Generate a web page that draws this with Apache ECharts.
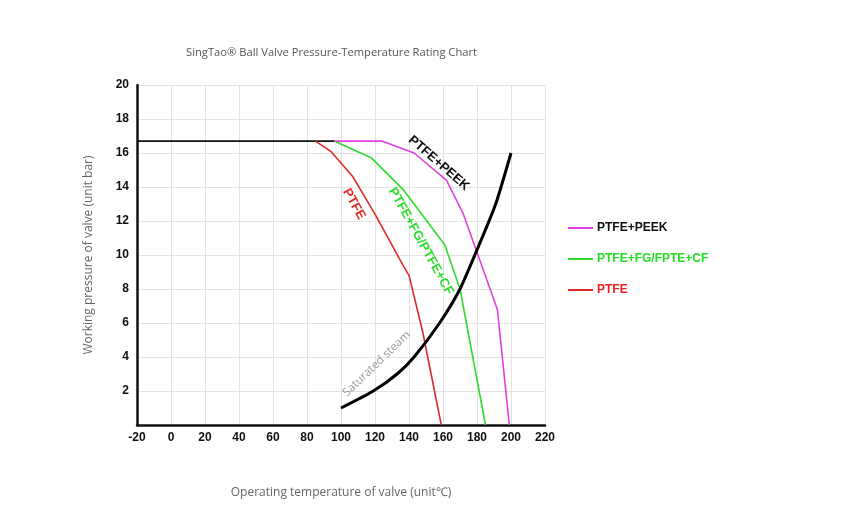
<!DOCTYPE html>
<html>
<head>
<meta charset="utf-8">
<script src="https://cdn.jsdelivr.net/npm/echarts@6/dist/echarts.min.js"></script>
<style>
  html, body { margin: 0; padding: 0; background: #fff; }
  #chart { width: 856px; height: 523px; }
</style>
</head>
<body>
<div id="chart"></div>
<script>
// temperature (°C), pressure (bar) pairs
const maxLine = [[-20, 16.7], [96, 16.7]];
const ptfe = [[85, 16.7], [94, 16.1], [107, 14.6], [120, 12.4], [137, 9.3], [140, 8.8], [148, 5.5], [159, 0]];
const ptfeFg = [[96, 16.7], [118, 15.7], [137, 13.8], [161, 10.6], [170, 8], [185, 0]];
const ptfePeek = [[96, 16.7], [124, 16.7], [143, 16], [162, 14.4], [172, 12.4], [192, 6.8], [199, 0]];
const steam = [[100, 1], [119, 2], [133, 3], [143, 4], [158, 6], [170, 8], [180, 10.3], [191, 13], [200, 16]];

const legendNames = ['PTFE+PEEK', 'PTFE+FG/FPTE+CF', 'PTFE'];

// curve labels: [text, x, y]
const notes = [
  ['PTFE+PEEK', 157.5, 15.4],
  ['PTFE', 107.6, 13.0],
  ['PTFE+FG/PTFE+CF', 147, 10.8],
  ['Saturated steam', 121, 3.6],
];

const chart = echarts.init(document.getElementById('chart'));

function note(i, color, rotate, bold) {
  return {
    silent: true,
    symbol: 'circle',
    symbolSize: 1,
    itemStyle: { color: 'rgba(0,0,0,0)' },
    label: {
      show: true,
      formatter: '{b}',
      color: color,
      rotate: rotate,
      fontSize: bold ? 13 : 11.5,
      fontWeight: bold ? 'bold' : 'normal',
      fontFamily: bold ? 'Liberation Sans, Arial' : 'Open Sans',
      position: 'inside',
    },
    data: [{ name: notes[i][0], coord: [notes[i][1], notes[i][2]] }],
  };
}

const thin = (color) => ({ width: 1.6, color: color });

chart.setOption({
  animation: false,
  backgroundColor: '#fff',
  title: {
    text: 'SingTao® Ball Valve Pressure-Temperature Rating Chart',
    left: 181,
    top: 42,
    textStyle: { color: '#555', fontSize: 11.2, fontWeight: 'normal', fontFamily: 'Open Sans' },
  },
  legend: {
    orient: 'vertical',
    left: 568,
    top: 222,
    padding: 0,
    itemWidth: 25,
    itemHeight: 2,
    itemGap: 19,
    icon: 'rect',
    selectedMode: false,
    data: [
      { name: legendNames[0], textStyle: { color: '#111' } },
      { name: legendNames[1], textStyle: { color: '#22dd22' } },
      { name: legendNames[2], textStyle: { color: '#ee2222' } },
    ],
    textStyle: { fontSize: 12, fontWeight: 'bold', fontFamily: 'Liberation Sans, Arial', padding: [0, 0, 0, -1] },
  },
  grid: { left: 137, right: 311, top: 85, bottom: 98 },
  xAxis: {
    type: 'value',
    min: -20,
    max: 220,
    interval: 20,
    name: 'Operating temperature of valve (unit℃)',
    nameLocation: 'middle',
    nameGap: 62,
    nameTextStyle: { color: '#666', fontSize: 12, fontFamily: 'Open Sans' },
    axisLine: { onZero: false, lineStyle: { color: '#111', width: 2.5 } },
    axisTick: { show: false },
    axisLabel: { color: '#111', fontSize: 12, fontWeight: 'bold', fontFamily: 'Liberation Sans, Arial', margin: 7 },
    splitLine: { lineStyle: { color: '#e2e2e2' } },
  },
  yAxis: {
    type: 'value',
    min: 0,
    max: 20,
    interval: 2,
    name: 'Working pressure of valve (unit bar)',
    nameLocation: 'middle',
    nameGap: 42,
    nameTextStyle: { color: '#666', fontSize: 12, fontFamily: 'Open Sans' },
    axisLine: { show: true, onZero: false, lineStyle: { color: '#111', width: 2.5 } },
    axisTick: { show: false },
    axisLabel: {
      color: '#111', fontSize: 12, fontWeight: 'bold', fontFamily: 'Liberation Sans, Arial', margin: 8,
      formatter: v => (v === 0 ? '' : v),
    },
    splitLine: { lineStyle: { color: '#e2e2e2' } },
  },
  series: [
    { name: 'max', type: 'line', data: maxLine, symbol: 'none', lineStyle: thin('#111'), z: 3 },
    { name: 'PTFE', type: 'line', data: ptfe, symbol: 'none', color: '#e02a2a', lineStyle: thin('#e02a2a'), markPoint: note(1, '#e02a2a', -61, true) },
    { name: 'PTFE+FG/FPTE+CF', type: 'line', data: ptfeFg, symbol: 'none', color: '#2ddc2d', lineStyle: thin('#2ddc2d'), markPoint: note(2, '#2ddc2d', -61, true) },
    { name: 'PTFE+PEEK', type: 'line', data: ptfePeek, symbol: 'none', color: '#e040e0', lineStyle: thin('#e040e0'), markPoint: note(0, '#111', -41, true) },
    { name: 'steam', type: 'line', data: steam, symbol: 'none', smooth: 0.2, lineStyle: { width: 3, color: '#000' }, markPoint: note(3, '#999', 44, false), z: 4 },
  ],
});
</script>
</body>
</html>
